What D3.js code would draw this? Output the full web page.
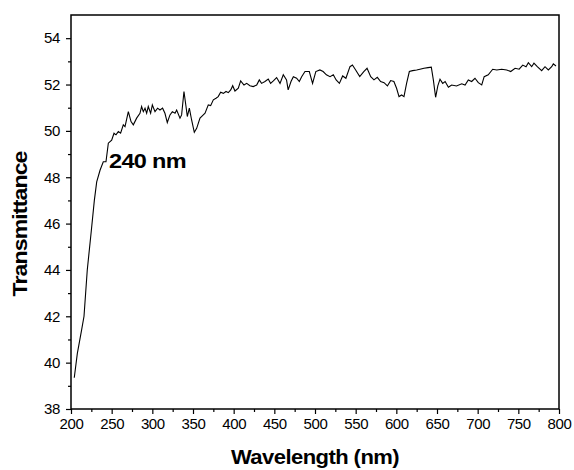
<!DOCTYPE html>
<html><head><meta charset="utf-8">
<script src="https://cdn.jsdelivr.net/npm/d3@7"></script>
<style>
body{margin:0;background:#fff;}
text{font-family:"Liberation Sans",Arial,sans-serif;}
</style></head>
<body><svg id="c" width="574" height="470"></svg>
<script>
const wavelength = [204,207.8,213,216,220,225,228.7,231.6,235.7,239.7,243,245.9,250,252.9,255.3,258.2,261,264.3,266.4,270.5,273.8,276.6,280.7,284.8,286.8,288.9,291,293,295,297.9,300,303.3,306.5,309.4,312.6,315.5,318.4,321.7,324.6,327.9,329.9,334,336,338.9,341.4,343,345.5,348.3,351.6,354.5,358.6,361.4,364.8,368.8,371.7,375,378.3,381,384,387.3,390.6,393.4,396.4,398.8,401.6,405.7,408.6,412.7,416,420,424,428.3,431.5,434.3,438.5,442.5,445.4,448.8,452.8,457,461,465,467,470.5,473.4,477.4,480.7,483.6,487.7,493,497,501,506,510,514,518.5,522.5,526,530,534,538,543,546,550,555,560,564,568.5,572.5,576.6,580.7,584.9,589,593,597,600.3,603.3,606.5,609.4,612.6,616,620,625,629,634,639,643,645.5,648.3,651,653.7,657,660,664,668,674,680.4,684.5,688.5,692.6,696.7,700.8,705,708,713,718.5,723.5,729.5,735.7,740.6,746,751,755.4,759.5,762.3,766.4,769.2,773.3,778.7,782.8,786.9,791,793,796.3];
const transmittance = [39.35,40.4,41.4,42,44,45.7,47.0,47.8,48.3,48.67,48.67,49.47,49.6,49.9,49.83,49.97,49.9,50.26,50.18,50.83,50.4,50.26,50.55,50.76,51.05,50.83,50.98,50.76,51.05,50.76,51.12,50.83,50.98,50.9,50.98,50.76,50.36,50.69,50.83,50.76,50.9,50.55,50.69,51.7,51.05,50.62,50.98,50.47,49.94,50.11,50.55,50.65,50.76,51.12,51.09,51.34,51.41,51.48,51.67,51.62,51.7,51.65,51.77,51.95,51.72,51.84,52.16,51.98,52.05,51.95,51.91,51.98,52.2,52.05,52.13,52.24,52.05,52.16,52.3,52.05,52.42,52.2,51.77,52.13,52.34,52.27,52.13,52.34,52.56,52.56,52.05,52.56,52.63,52.56,52.42,52.34,52.42,52.2,52.05,52.37,52.27,52.77,52.84,52.63,52.34,52.56,52.7,52.34,52.2,52.31,52.13,52.08,51.94,52.17,52.13,51.84,51.48,51.55,51.48,52.05,52.56,52.6,52.63,52.66,52.7,52.73,52.75,52.2,51.45,51.94,52.23,52.05,52.13,51.88,51.98,51.94,52.03,51.98,52.2,52.13,52.27,52.08,51.98,52.34,52.42,52.66,52.63,52.66,52.63,52.56,52.7,52.66,52.84,52.77,52.94,52.77,52.92,52.77,52.6,52.77,52.63,52.77,52.89,52.8];
const xTicks = [200,250,300,350,400,450,500,550,600,650,700,750,800];
const yTicks = [38,40,42,44,46,48,50,52,54];
const xTitle = "Wavelength (nm)";
const yTitle = "Transmittance";
const annotation = "240 nm";

const svg = d3.select("#c");
const L=71, R=559, T=15, B=409;
const x = d3.scaleLinear().domain([200,800]).range([L,R]);
const y = d3.scaleLinear().domain([38,55]).range([B,T]);

svg.append("rect").attr("x",L).attr("y",T).attr("width",R-L).attr("height",B-T)
  .attr("fill","none").attr("stroke","#000").attr("stroke-width",1.5);

const xa = svg.append("g").attr("transform",`translate(0,${B})`)
  .call(d3.axisBottom(x).tickValues(xTicks).tickSize(5).tickPadding(4).tickFormat(d3.format("d")));
xa.select(".domain").remove();
const xm = svg.append("g").attr("transform",`translate(0,${B})`)
  .call(d3.axisBottom(x).tickValues(d3.range(225,800,50)).tickSize(3).tickFormat(""));
xm.select(".domain").remove();
const ya = svg.append("g").attr("transform",`translate(${L},0)`)
  .call(d3.axisLeft(y).tickValues(yTicks).tickSize(5).tickPadding(6).tickFormat(d3.format("d")));
ya.select(".domain").remove();
const ym = svg.append("g").attr("transform",`translate(${L},0)`)
  .call(d3.axisLeft(y).tickValues(d3.range(39,55,2)).tickSize(3).tickFormat(""));
ym.select(".domain").remove();
svg.selectAll(".tick line").attr("stroke","#000").attr("stroke-width",1.2);
svg.selectAll(".tick text").attr("font-size",15).attr("fill","#000")
  .attr("font-family","Liberation Sans, Arial, sans-serif").attr("letter-spacing","-0.4");

svg.append("path").datum(wavelength.map((w,i)=>[w,transmittance[i]]))
  .attr("fill","none").attr("stroke","#000").attr("stroke-width",1.1)
  .attr("d", d3.line().x(d=>x(d[0])).y(d=>y(d[1])));

svg.append("text").attr("transform","translate(315,464) scale(1.1,1)").attr("text-anchor","middle")
  .attr("font-size",20).attr("font-weight","bold").attr("letter-spacing","-0.5").text(xTitle);
svg.append("text").attr("transform","translate(27,224) rotate(-90) scale(1.1,1)").attr("text-anchor","middle")
  .attr("font-size",21).attr("font-weight","bold").attr("letter-spacing","-0.8").text(yTitle);
svg.append("text").attr("transform","translate(109,168) scale(1.12,1)")
  .attr("font-size",21).attr("font-weight","bold").attr("letter-spacing","-0.6").text(annotation);
</script></body></html>
